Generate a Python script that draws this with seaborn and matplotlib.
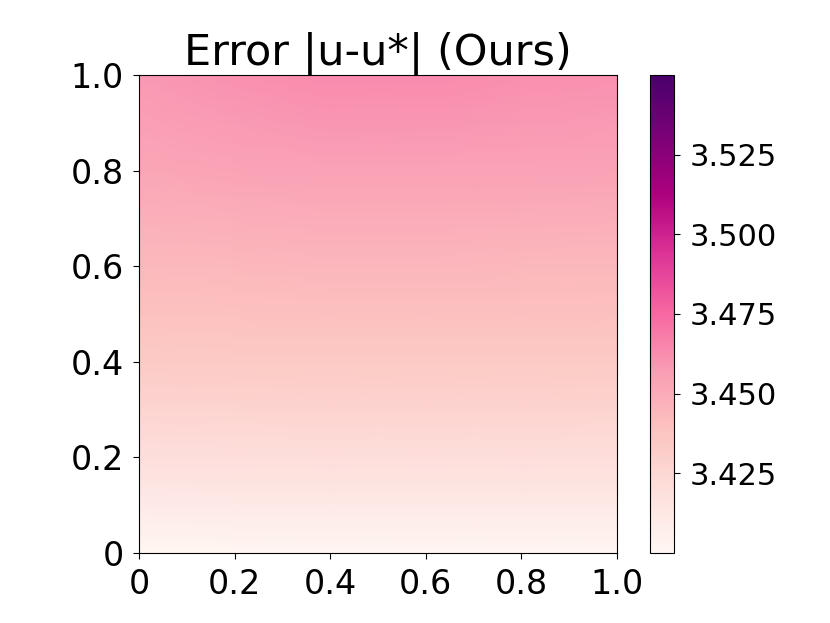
import numpy as np
import pandas as pd
import matplotlib
matplotlib.use("Agg")
import matplotlib.pyplot as plt
import seaborn as sns

# grid: columns x = 0..1, rows y = 1.0 (top) .. 0.0 (bottom)
x_coords = [0.0, 0.2, 0.4, 0.6, 0.8, 1.0]
y_coords = [1.0, 0.9, 0.8, 0.7, 0.6, 0.5, 0.4, 0.3, 0.2, 0.1, 0.0]
err_rows = [
    [3.4585, 3.4610, 3.4630, 3.4630, 3.4620, 3.4610],
    [3.4560, 3.4580, 3.4595, 3.4595, 3.4585, 3.4580],
    [3.4525, 3.4540, 3.4550, 3.4550, 3.4545, 3.4540],
    [3.4480, 3.4490, 3.4500, 3.4500, 3.4495, 3.4490],
    [3.4435, 3.4440, 3.4450, 3.4450, 3.4445, 3.4440],
    [3.4390, 3.4395, 3.4400, 3.4400, 3.4400, 3.4395],
    [3.4335, 3.4340, 3.4345, 3.4345, 3.4345, 3.4340],
    [3.4270, 3.4275, 3.4280, 3.4280, 3.4280, 3.4275],
    [3.4195, 3.4200, 3.4205, 3.4205, 3.4205, 3.4200],
    [3.4110, 3.4112, 3.4115, 3.4115, 3.4115, 3.4112],
    [3.4010, 3.4012, 3.4015, 3.4015, 3.4015, 3.4012],
]
tick_vals = [0.0, 0.2, 0.4, 0.6, 0.8, 1.0]
tick_labels = ["0", "0.2", "0.4", "0.6", "0.8", "1.0"]
cbar_ticks = [3.425, 3.450, 3.475, 3.500, 3.525]
cbar_labels = ["3.425", "3.450", "3.475", "3.500", "3.525"]
vmin, vmax = 3.40, 3.55

err_df = pd.DataFrame(err_rows, index=y_coords, columns=x_coords)

fig = plt.figure(figsize=(8.3, 6.23), dpi=100)
ax = fig.add_axes([139 / 830, 70 / 623, 478 / 830, 478 / 623])
cax = fig.add_axes([650 / 830, 70 / 623, 24 / 830, 478 / 623])

sns.heatmap(
    err_df,
    ax=ax,
    cbar_ax=cax,
    cmap="RdPu",
    vmin=vmin,
    vmax=vmax,
    xticklabels=False,
    yticklabels=False,
    shading="gouraud",
)

# gouraud mesh spans cell centres -> trim limits to data range
ncols, nrows = len(x_coords), len(y_coords)
ax.set_xlim(0, ncols - 1)
ax.set_ylim(nrows - 1, 0)

ax.set_xticks([x_coords.index(v) for v in tick_vals])
ax.set_xticklabels(tick_labels)
ax.set_yticks([y_coords.index(v) for v in tick_vals])
ax.set_yticklabels(tick_labels)
ax.tick_params(labelsize=24, rotation=0, length=4.5, pad=6.5)

for sp in ax.spines.values():
    sp.set_visible(True)
    sp.set_color("black")
    sp.set_linewidth(0.8)

ax.set_title("Error |u-u*| (Ours)", fontsize=31, pad=3)

cb = ax.collections[0].colorbar
cb.set_ticks(cbar_ticks)
cb.set_ticklabels(cbar_labels)
cb.ax.tick_params(labelsize=22, length=4.5, pad=6.5)
cb.outline.set_linewidth(0.8)
cb.outline.set_edgecolor("black")

fig.savefig("out.png", dpi=100)
